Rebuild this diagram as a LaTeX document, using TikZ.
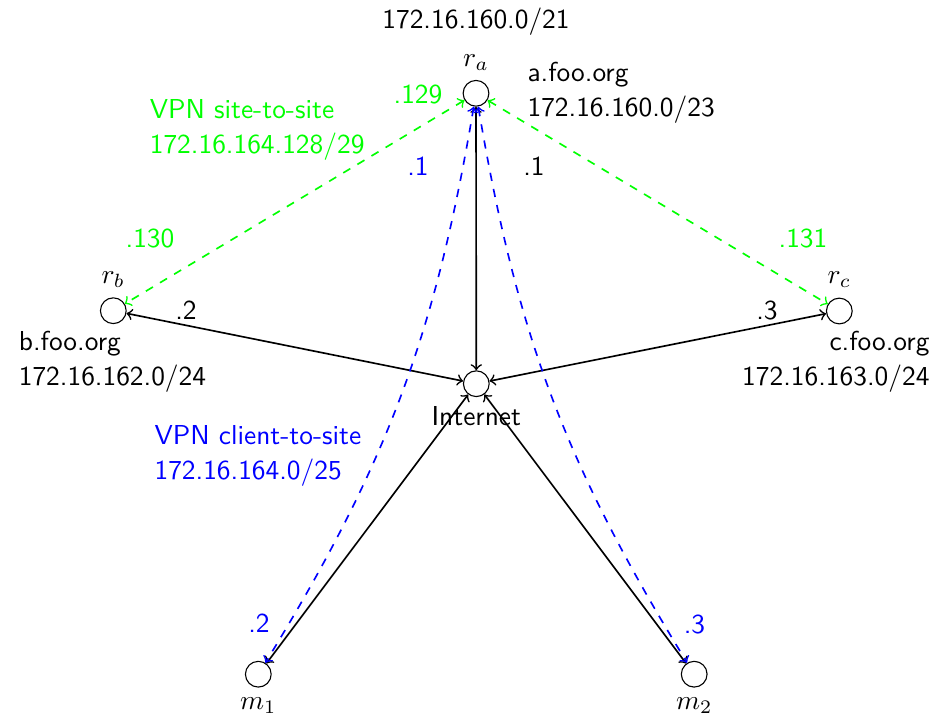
\documentclass[tikz,border=0pt]{standalone}
\begin{document}
\begin{tikzpicture}[x=0.365pt, y=-0.365pt, font=\sffamily,
  host/.style={circle, draw, minimum size=9.4pt, inner sep=0pt},
  txt/.style={anchor=base, inner sep=0pt},
  link/.style={<->, semithick},
  sitevpn/.style={<->, dashed, green, semithick},
  clientvpn/.style={<->, dashed, blue, semithick}]
\path[use as bounding box] (0,0) rectangle (940,716);

% hosts
\node[host, label={above:$r_a$}] (ra) at (476,93.3) {};
\node[host, label={above:$r_b$}] (rb) at (113.3,310.7) {};
\node[host, label={above:$r_c$}] (rc) at (839.3,311) {};
\node[host, label={below:Internet}] (inet) at (476.3,383.7) {};
\node[host, label={below:$m_1$}] (m1) at (258.3,674.2) {};
\node[host, label={below:$m_2$}] (m2) at (694.2,674.2) {};

% networks (anchored on the baseline of the last line)
\node[txt] (net) at (476,28.3) {172.16.160.0/21};
\node[txt, anchor=base west, align=left] (adesc) at (527,116.5) {a.foo.org\\[0.7pt]172.16.160.0/23};
\node[txt, anchor=base west, align=left] (bdesc) at (18.3,385.5) {b.foo.org\\[0.7pt]172.16.162.0/24};
\node[txt, anchor=base east, align=right] (cdesc) at (930,385.5) {c.foo.org\\[0.7pt]172.16.163.0/24};
\node[txt, green, anchor=base west, align=left] (s2s) at (149.3,153.2) {VPN site-to-site\\[0.7pt]172.16.164.128/29};
\node[txt, blue, anchor=base west, align=left] (c2s) at (154,479) {VPN client-to-site\\[0.7pt]172.16.164.0/25};

% interface addresses
\node[txt, green] (ra129) at (418,103.3) {.129};
\node[txt, green] (rb130) at (150,247.7) {.130};
\node[txt, green] (rc131) at (803,247.7) {.131};
\node[txt, blue] (ra1v) at (418,175) {.1};
\node[txt] (ra1) at (534,175) {.1};
\node[txt] (rb2) at (186,319) {.2};
\node[txt] (rc3) at (767,319) {.3};
\node[txt, blue] (m12) at (259,632.7) {.2};
\node[txt, blue] (m23) at (694.5,633.3) {.3};

% uplinks to the Internet
\draw[link] (inet) -- (ra);
\draw[link] (inet) -- (rb);
\draw[link] (inet) -- (rc);
\draw[link] (inet) -- (m1);
\draw[link] (inet) -- (m2);

% site-to-site tunnels
\draw[sitevpn] (ra) -- (rb);
\draw[sitevpn] (ra) -- (rc);

% client-to-site tunnels
\draw[clientvpn] (ra) to[bend left=11] (m1);
\draw[clientvpn] (ra) to[bend right=11] (m2);
\end{tikzpicture}
\end{document}
